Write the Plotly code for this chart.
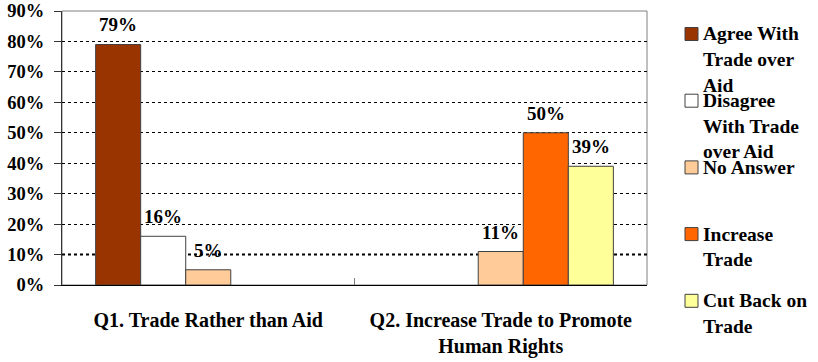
import plotly.graph_objects as go

# Survey questions (x categories)
categories = ["Q1. Trade Rather than Aid", "Q2. Increase Trade to Promote<br>Human Rights"]

# Response series (percent of respondents)
agree_trade_over_aid = [79, None]
disagree_trade_over_aid = [16, None]
no_answer = [5, 11]
increase_trade = [None, 50]
cut_back_trade = [None, 39]

# Y-axis tick values
y_ticks = [0, 10, 20, 30, 40, 50, 60, 70, 80, 90]

series_labels = [
    ["Agree With", "Trade over", "Aid"],
    ["Disagree", "With Trade", "over Aid"],
    ["No Answer"],
    ["Increase", "Trade"],
    ["Cut Back on", "Trade"],
]
series_values = [agree_trade_over_aid, disagree_trade_over_aid, no_answer,
                 increase_trade, cut_back_trade]
series_colors = ["#993300", "#FFFFFF", "#FFCC99", "#FF6600", "#FFFF99"]

FONT = "Liberation Serif"
W, H = 818, 362
ML, MR, MT, MB = 62, 171, 11, 77
PW, PH = W - ML - MR, H - MT - MB
BARGAP = 0.23
n_series = len(series_values)
bar_w = (1 - BARGAP) / n_series  # width of one bar in category units

fig = go.Figure()
for k, (labels, vals, col) in enumerate(zip(series_labels, series_values, series_colors)):
    fig.add_trace(go.Bar(
        x=categories, y=vals, name=" ".join(labels),
        marker=dict(color=col, line=dict(color="#404040", width=1)),
        showlegend=False, hoverinfo="skip",
    ))
    # value labels above each bar
    for ci, v in enumerate(vals):
        if v is None:
            continue
        fig.add_annotation(
            x=ci + (k - (n_series - 1) / 2) * bar_w, y=v, xref="x", yref="y",
            text=f"<b>{v}%</b>", showarrow=False, yanchor="bottom", yshift=7,
            font=dict(family=FONT, size=19, color="#000000"),
        )

# Plot-area frame (top/right in gray)
fig.add_shape(type="rect", xref="paper", yref="paper", x0=0, x1=1, y0=0, y1=1,
              line=dict(color="#808080", width=1), layer="below")
# heavier dotted line at the first gridline
fig.add_shape(type="line", xref="paper", yref="y", x0=0, x1=1,
              y0=y_ticks[1], y1=y_ticks[1],
              line=dict(color="#000000", width=2, dash="dot"), layer="below")

# Hand-built legend: colored square + stacked lines of text per series
def px_to_paper_x(px):
    return (px - ML) / PW

def px_to_paper_y(py):
    return (MT + PH - py) / PH

item_step, line_step = 66.7, 25.5
for i, (labels, col) in enumerate(zip(series_labels, series_colors)):
    cy = 34 + item_step * i
    fig.add_shape(type="rect", xref="paper", yref="paper",
                  x0=px_to_paper_x(685), x1=px_to_paper_x(698),
                  y0=px_to_paper_y(cy + 6.5), y1=px_to_paper_y(cy - 6.5),
                  fillcolor=col, line=dict(color="#404040", width=1))
    for j, line in enumerate(labels):
        fig.add_annotation(text=f"<b>{line}</b>", xref="paper", yref="paper",
                           x=px_to_paper_x(701), y=px_to_paper_y(cy + line_step * j),
                           xanchor="left", yanchor="middle", showarrow=False,
                           font=dict(family=FONT, size=19.5, color="#000000"))

fig.update_layout(
    width=W, height=H,
    margin=dict(l=ML, r=MR, t=MT, b=MB, pad=0, autoexpand=False),
    paper_bgcolor="white", plot_bgcolor="white",
    barmode="group", bargap=BARGAP, bargroupgap=0,
    font=dict(family=FONT, color="#000000"),
)
fig.update_xaxes(
    type="category", showline=True, linecolor="#000000", linewidth=1,
    showgrid=False, ticks="inside", ticklen=7, tickcolor="#808080",
    tickson="boundaries", tickfont=dict(family=FONT, size=20, color="#000000"),
    ticklabelstandoff=17, tickvals=categories,
    ticktext=[f"<b>{c}</b>" for c in categories], automargin=False,
)
fig.update_yaxes(
    range=[0, 90], tickvals=y_ticks,
    ticktext=[f"<b>{v}%</b>" for v in y_ticks],
    showline=True, linecolor="#333333", linewidth=1,
    showgrid=True, gridcolor="#000000", griddash="dot", gridwidth=1,
    ticks="outside", ticklen=7, tickcolor="#333333",
    tickfont=dict(family=FONT, size=18.5, color="#000000"),
    ticklabelstandoff=6, zeroline=False, automargin=False,
)

fig.write_html("out.html")
